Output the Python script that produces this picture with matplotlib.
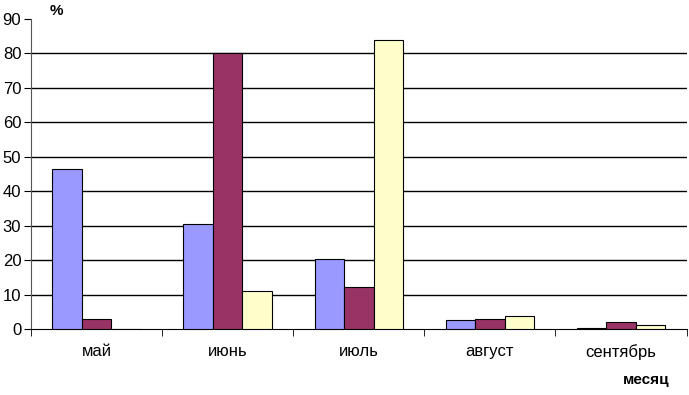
import matplotlib.pyplot as plt
import numpy as np

months = ["май", "июнь", "июль", "август", "сентябрь"]
series_a = [46.4, 30.5, 20.3, 2.5, 0.3]
series_b = [2.9, 80.0, 12.2, 2.8, 2.0]
series_c = [0.0, 11.0, 84.0, 3.7, 1.1]

colors = ["#9999FF", "#993366", "#FFFFCC"]

plt.rcParams["font.family"] = ["Liberation Sans", "DejaVu Sans"]

fig = plt.figure(figsize=(6.89, 3.95), dpi=100)
ax = fig.add_axes([0.045, 0.167, 0.9515, 0.785])

x = np.arange(len(months))
w = 0.225
for i, (vals, c) in enumerate(zip([series_a, series_b, series_c], colors)):
    ax.bar(x + (i - 1) * w, vals, width=w, color=c, edgecolor="black",
           linewidth=0.8, zorder=3)

ax.set_xlim(-0.5, len(months) - 0.5)
ax.set_ylim(0, 90)
ax.set_yticks(range(0, 91, 10))
for v in range(10, 90, 10):
    ax.axhline(v, color="black", linewidth=1.0, zorder=1)

ax.set_xticks(x)
ax.set_xticklabels(months, fontsize=12)
ax.set_xticks(np.arange(-0.5, len(months)), minor=True)
ax.tick_params(axis="x", which="major", length=0, pad=11)
ax.tick_params(axis="x", which="minor", length=5, direction="out")
ax.tick_params(axis="y", labelsize=12, length=5, pad=2)

for s in ["top", "right"]:
    ax.spines[s].set_visible(False)
ax.spines["left"].set_color("#555555")
ax.spines["bottom"].set_color("black")

fig.text(0.072, 0.99, "%", fontsize=11, fontweight="bold", ha="left", va="top")
fig.text(0.972, 0.02, "месяц", fontsize=11, fontweight="bold", ha="right", va="bottom")

fig.savefig("out.png", dpi=100)
